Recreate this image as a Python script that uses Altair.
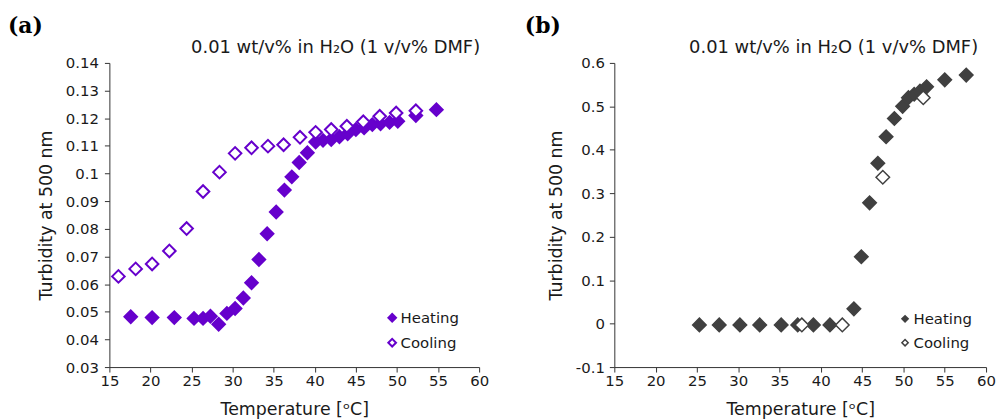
import altair as alt
import pandas as pd

PURPLE = "#6600cc"
GRAY = "#404040"
AXIS_C = "#333333"
TXT = "#1a1a1a"

# ---- panel (a) ----
a_heat_T = [17.6, 20.2, 22.9, 25.3, 26.4, 27.3, 28.3, 29.3, 30.3, 31.3, 32.3, 33.2, 34.2, 35.3,
            36.3, 37.2, 38.1, 39.1, 40.1, 41.0, 42.0, 43.0, 44.0, 45.0, 46.0, 47.0, 48.0, 49.1,
            50.1, 52.3, 54.8]
a_heat_val = [0.0482, 0.0479, 0.0479, 0.0476, 0.0476, 0.0484, 0.0455, 0.0494, 0.0512, 0.055,
              0.0605, 0.0689, 0.0782, 0.0861, 0.094, 0.0988, 0.104, 0.1075, 0.1114, 0.112,
              0.1123, 0.1133, 0.1144, 0.1159, 0.1165, 0.1177, 0.118, 0.1185, 0.1189, 0.121, 0.1231]
a_cool_T = [16.1, 18.2, 20.2, 22.3, 24.4, 26.4, 28.4, 30.3, 32.3, 34.3, 36.2, 38.2, 40.1, 42.0,
            43.9, 45.9, 47.9, 49.9, 52.3]
a_cool_val = [0.0628, 0.0655, 0.0673, 0.072, 0.0801, 0.0935, 0.1005, 0.1073, 0.1093, 0.1099,
              0.1104, 0.1131, 0.1149, 0.1159, 0.1171, 0.1187, 0.1207, 0.1219, 0.1227]

# ---- panel (b) ----
b_heat_T = [25.3, 27.7, 30.2, 32.6, 35.2, 37.2, 39.1, 41.1, 44.0, 44.9, 45.9, 46.9, 47.9, 48.9,
            49.9, 50.6, 51.3, 52.0, 52.8, 55.0, 57.6]
b_heat_val = [-0.003, -0.003, -0.003, -0.003, -0.003, -0.003, -0.003, -0.003, 0.034, 0.154,
              0.278, 0.369, 0.43, 0.472, 0.50, 0.52, 0.528, 0.535, 0.545, 0.561, 0.572]
b_cool_T = [37.7, 42.6, 47.5, 52.4]
b_cool_val = [-0.003, -0.003, 0.337, 0.52]

series = ["Heating", "Cooling"]
x_ticks = [15, 20, 25, 30, 35, 40, 45, 50, 55, 60]
a_y_ticks = [0.03, 0.04, 0.05, 0.06, 0.07, 0.08, 0.09, 0.1, 0.11, 0.12, 0.13, 0.14]
b_y_ticks = [-0.1, 0, 0.1, 0.2, 0.3, 0.4, 0.5, 0.6]

subtitle = "0.01 wt/v% in H\u2082O (1 v/v% DMF)"
x_title = "Temperature [\u1d52C]"
y_title = "Turbidity at 500 nm"

FONT = "DejaVu Sans"
LBL_EXPR = "datum.value < 0 ? '-' + format(-datum.value, '~g') : format(datum.value, '~g')"


def make_df(hT, hv, cT, cv):
    return pd.DataFrame({
        "T": hT + cT,
        "v": hv + cv,
        "s": ["Heating"] * len(hT) + ["Cooling"] * len(cT),
    })


def panel(df, color, ydom, yticks, size, sw, leg_size, leg_sw, legx, legy, lblpad,
          label, label_x, sub_x, W, H):
    xax = alt.Axis(values=x_ticks, title=x_title, grid=False, domainColor=AXIS_C,
                   tickColor=AXIS_C, tickSize=5, labelFont=FONT, labelFontSize=15,
                   labelColor=TXT, labelPadding=2, titleFont=FONT, titleFontSize=17.5,
                   titleFontWeight="normal", titleColor=TXT, titlePadding=12, labelFlush=False)
    yax = alt.Axis(values=yticks, title=y_title, grid=False, domainColor=AXIS_C,
                   tickColor=AXIS_C, tickSize=5, labelFont=FONT, labelFontSize=15,
                   labelColor=TXT, labelPadding=lblpad, labelExpr=LBL_EXPR, titleFont=FONT,
                   titleFontSize=17.5, titleFontWeight="normal", titleColor=TXT,
                   titlePadding=10, labelFlush=False)
    pts = alt.Chart(df).mark_point(shape="diamond", filled=True, size=size, strokeWidth=sw,
                                   opacity=1).encode(
        x=alt.X("T:Q", scale=alt.Scale(domain=[15, 60], nice=False, zero=False), axis=xax),
        y=alt.Y("v:Q", scale=alt.Scale(domain=ydom, nice=False, zero=False), axis=yax),
        fill=alt.Fill("s:N", scale=alt.Scale(domain=series, range=[color, "white"]),
                      legend=alt.Legend(title=None, orient="none", legendX=legx, legendY=legy,
                                        symbolType="diamond", symbolSize=leg_size,
                                        symbolStrokeColor=color, symbolStrokeWidth=leg_sw,
                                        labelFont=FONT, labelFontSize=15, labelColor=TXT,
                                        rowPadding=8, labelOffset=1, padding=0)),
        stroke=alt.value(color),
    )
    lab = alt.Chart(pd.DataFrame({"t": [label]})).mark_text(
        align="left", baseline="alphabetic", font="DejaVu Serif", fontWeight="bold",
        fontSize=22, color="black").encode(x=alt.value(label_x), y=alt.value(-30), text="t:N")
    sub = alt.Chart(pd.DataFrame({"t": [subtitle]})).mark_text(
        align="right", baseline="alphabetic", font=FONT, fontSize=18, color=TXT).encode(
        x=alt.value(sub_x), y=alt.value(-10), text="t:N")
    return alt.layer(pts, lab, sub).properties(width=W, height=H)


pa = panel(make_df(a_heat_T, a_heat_val, a_cool_T, a_cool_val), PURPLE, [0.03, 0.14],
           a_y_ticks, 160, 2, 60, 2, 277, 249, 6, "(a)", -102, 373, 372, 306)
pb = panel(make_df(b_heat_T, b_heat_val, b_cool_T, b_cool_val), GRAY, [-0.1, 0.6],
           b_y_ticks, 185, 1.5, 40, 1.5, 285, 250, 5, "(b)", -90, 366, 374, 306)

chart = alt.hconcat(pa, pb, spacing=36).resolve_scale(fill="independent").resolve_legend(
    fill="independent").properties(
    padding={"left": 0, "top": 6, "right": 0, "bottom": 0}).configure_view(stroke=None)

chart.save("out.html", embed_options={"renderer": "svg", "actions": False})
